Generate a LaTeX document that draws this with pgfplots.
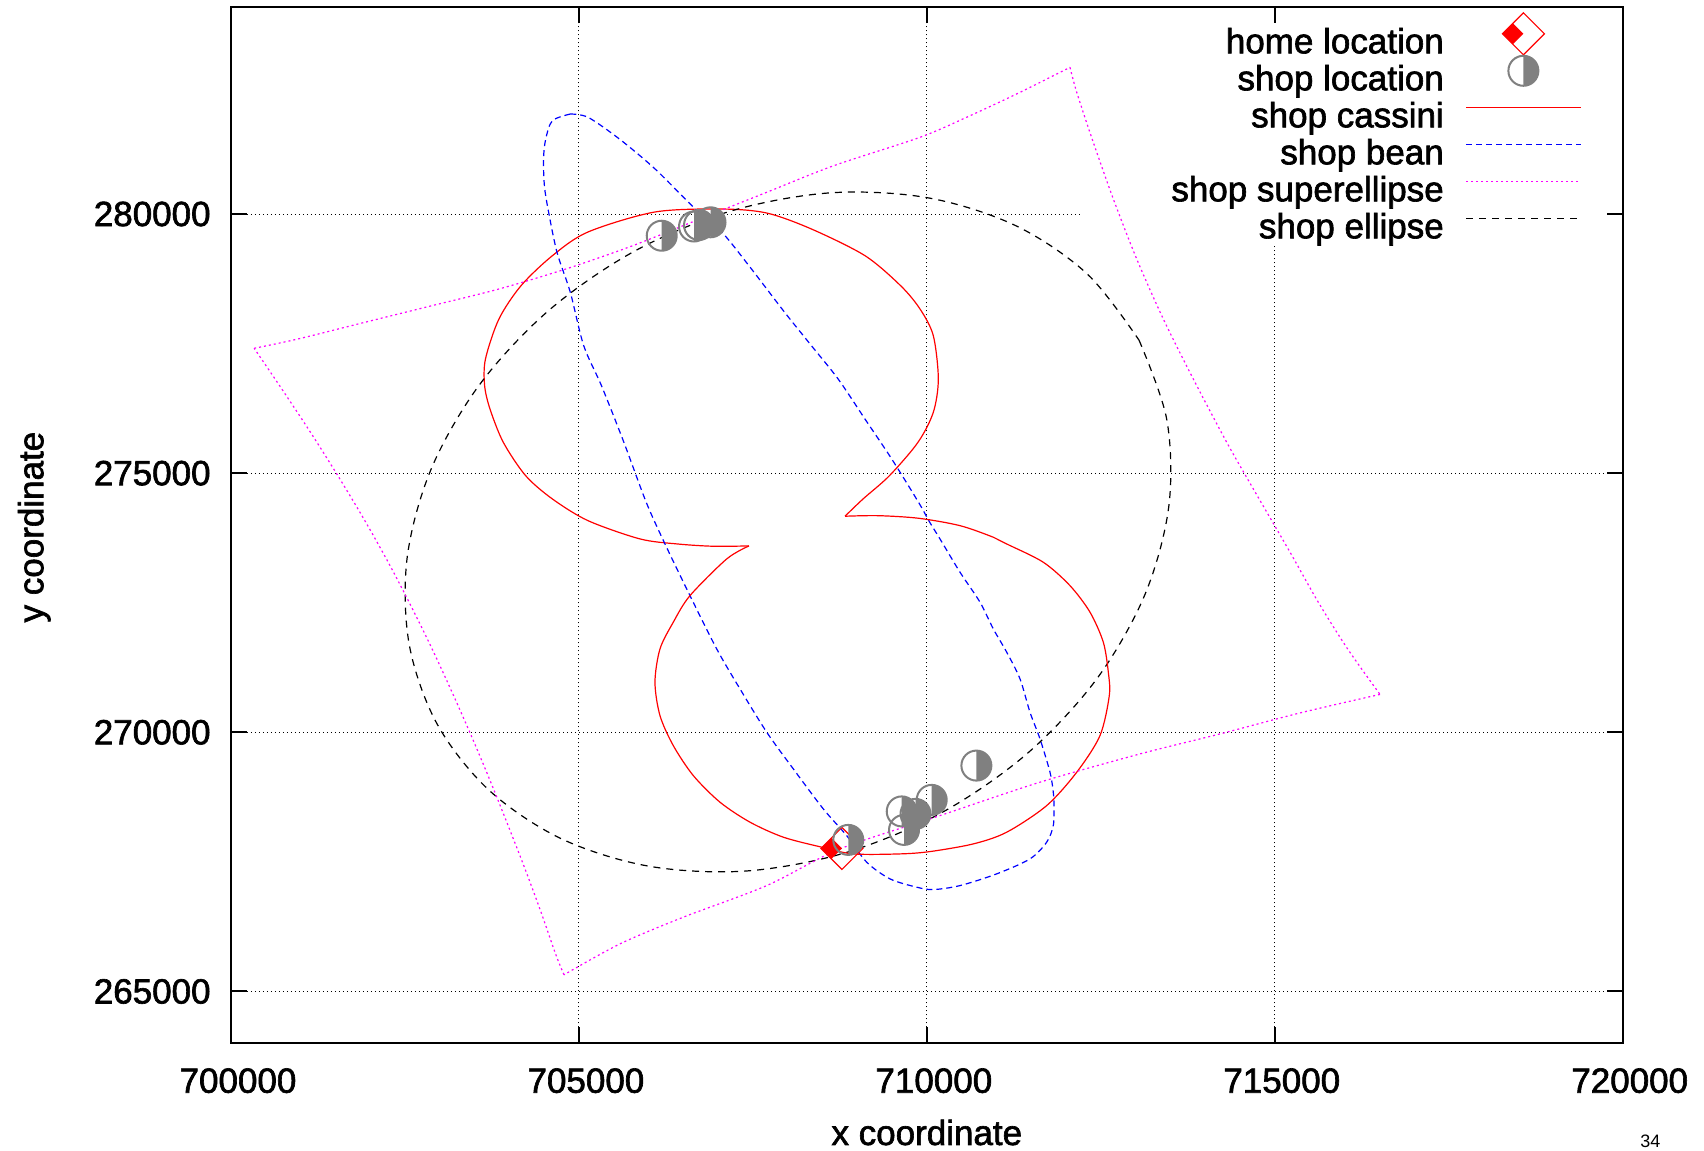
\documentclass[border=0pt]{standalone}
\usepackage{fontspec}
\setmainfont{Liberation Sans}[UprightFeatures={FakeBold=1.8}]
\newfontfamily\plainfont{Liberation Sans}
\usepackage{pgfplots}
\pgfplotsset{compat=1.18}
\definecolor{shopgray}{RGB}{128,128,128}
\definecolor{gmagenta}{RGB}{255,0,255}
\definecolor{gblue}{RGB}{0,0,255}
\definecolor{gred}{RGB}{255,0,0}

\pgfdeclareplotmark{shopmark}{%
  \pgfpathmoveto{\pgfqpoint{0pt}{\pgfplotmarksize}}%
  \pgfpatharc{90}{-90}{\pgfplotmarksize}%
  \pgfpathclose
  \pgfusepathqfill
  \pgfpathcircle{\pgfpointorigin}{\pgfplotmarksize}%
  \pgfusepathqstroke
}
\pgfdeclareplotmark{homemark}{%
  \pgfpathmoveto{\pgfqpoint{-10.5pt}{0pt}}%
  \pgfpathlineto{\pgfqpoint{0pt}{10.5pt}}%
  \pgfpathlineto{\pgfqpoint{10.5pt}{0pt}}%
  \pgfpathlineto{\pgfqpoint{0pt}{-10.5pt}}%
  \pgfpathclose
  \pgfusepathqstroke
  \pgfpathmoveto{\pgfqpoint{-10.5pt}{0pt}}%
  \pgfpathlineto{\pgfqpoint{-5.25pt}{5.25pt}}%
  \pgfpathlineto{\pgfqpoint{0pt}{0pt}}%
  \pgfpathlineto{\pgfqpoint{-5.25pt}{-5.25pt}}%
  \pgfpathclose
  \pgfusepathqfill
}

\pgfplotsset{
  linelegend/.style={legend image code/.code={%
    \draw[##1] (0pt,6.5pt) -- (57.5pt,6.5pt);}},
  marklegend/.style={legend image code/.code={%
    \path[draw=none] (0pt,6.5pt) -- (57.5pt,6.5pt);
    \path[##1, draw=none, overlay] plot coordinates {(28.5pt,6.5pt)};}},
  cassini/.style={gred, line width=0.6pt, smooth, tension=0.5},
  bean/.style={gblue, line width=0.6pt, dash pattern=on 3pt off 2pt, smooth, tension=0.5},
  supell/.style={gmagenta, line width=0.6pt, dash pattern=on 1pt off 1.5pt, smooth, tension=0.5},
  ell/.style={black, line width=0.6pt, dash pattern=on 3.5pt off 3pt, smooth, tension=0.55},
}

\begin{document}
\begin{tikzpicture}
\begin{axis}[
  at={(0pt,0pt)}, anchor=south west,
  scale only axis, width=695.85pt, height=518.3pt,
  xmin=700000, xmax=720000, ymin=264000, ymax=284000,
  xtick={700000,705000,710000,715000,720000},
  xticklabels={700000,705000,710000,715000,720000},
  ytick={265000,270000,275000,280000},
  yticklabels={265000,270000,275000,280000},
  scaled ticks=false,
  font=\fontsize{17.5}{21}\selectfont,
  tick label style={font=\fontsize{17.5}{21}\selectfont},
  xticklabel style={anchor=north, inner sep=0pt, yshift=-12.3pt, xshift=3.5pt},
  yticklabel style={anchor=east, inner sep=0pt, xshift=-10pt},
  major tick length=8pt,
  every tick/.style={black, line width=1pt},
  axis line style={line width=1pt},
  grid=major,
  major grid style={black, line width=0.5pt, dash pattern=on 0.5pt off 1.5pt},
  xlabel={x coordinate}, ylabel={y coordinate},
  xlabel style={at={(axis description cs:0.5,-0.0981)}, anchor=base, inner sep=0pt},
  ylabel style={at={(axis description cs:-0.1349,0.498)}, anchor=base, inner sep=0pt},
  legend cell align=right,
  legend plot pos=right,
  legend style={draw=none, fill=none, inner sep=0pt, outer sep=0pt, row sep=0pt, column sep=11pt,
     at={(1,1)}, anchor=north east, xshift=-20.35pt, yshift=-10.8pt,
     nodes={inner sep=0pt, text height=12.5pt, text depth=6pt},
     font=\fontsize{17.5}{21}\selectfont},
]
\fill[white] (axis cs:712244,279388) rectangle (axis cs:719760,283680);

\addplot[only marks, mark=homemark, color=gred, line width=0.6pt, marklegend]
  coordinates {(708780,267760)};
\addlegendentry{home location}

\addplot[only marks, mark=shopmark, mark size=7.5pt, color=shopgray, line width=1pt, marklegend]
  coordinates {(706190,279581) (706654,279759) (706726,279788) (706891,279840)
   (708871,267924) (709639,268474) (709672,268117) (709837,268426) (710070,268696) (710712,269358)};
\addlegendentry{shop location}

% shop cassini: upper lobe (notch L to notch R)
\addplot[cassini, linelegend] coordinates {
(707444,273596) (706927,273590) (706415,273634) (705878,273731) (705130,274084) (704619,274502)
(704234,274952) (703913,275596) (703722,276238) (703645,276688) (703657,277203) (703851,277975)
(704168,278617) (704619,279196) (705130,279653) (706093,280039) (707056,280096) (707699,280019)
(708341,279711) (709111,279196) (709623,278617) (709902,278167) (710093,277652) (710165,276817)
(710093,276175) (709873,275596) (709463,274952) (709083,274502) (708824,274169)};
\addlegendentry{shop cassini}

\addplot[bean, linelegend] coordinates {
(704876,281929) (705132,281865) (705582,281447) (706095,280868) (706673,280096) (707056,279647)
(707443,279003) (707956,278104) (708341,277460) (708725,276817) (709110,276046) (709495,275274)
(709880,274439) (710041,274053) (710189,273731) (710477,273088) (710764,272510) (710955,271995)
(711148,271545) (711339,271030) (711482,270388) (711626,269873) (711770,269230) (711817,268845)
(711827,268586) (711817,268200) (711722,267880) (711482,267558) (711004,267269) (710477,267043)
(710093,266966) (709854,267012) (709471,267172) (709136,267494) (708848,268007) (708512,268522)
(708081,269294) (707699,270002) (707315,270837) (706980,271609) (706596,272637) (706237,273634)
(705967,274439) (705646,275596) (705324,276688) (705069,277460) (704876,278490) (704685,279261)
(704556,280096) (704504,280546) (704491,281061) (704523,281447) (704619,281800) (704876,281929)};
\addlegendentry{shop bean}

% shop superellipse: top side
\addplot[supell, linelegend] coordinates {
(700333,277409) (700963,277589) (701924,277911) (702887,278231) (703850,278553) (704811,278939)
(705774,279389) (706736,279904) (707699,280419) (708661,280932) (709902,281480) (710620,281896)
(711339,282348) (712057,282830)};
\addlegendentry{shop superellipse}

\addplot[ell, linelegend] coordinates {
(713050,277564) (713448,276036) (713477,274358) (713132,272651) (712437,271022) (711441,269589)
(710209,268447) (708828,267676) (707390,267323) (705996,267419) (704737,267953) (703702,268891)
(702959,270168) (702561,271696) (702532,273374) (702877,275081) (703573,276709) (704569,278142)
(705800,279284) (707181,280056) (708620,280409) (710014,280313) (711273,279778) (712307,278841)
(713050,277564)};
\addlegendentry{shop ellipse}

% shop cassini: lower lobe (notch R to notch L)
\addplot[cassini, forget plot] coordinates {
(708824,274169) (709298,274180) (709880,274130) (710477,273987) (710955,273764) (711148,273634)
(711674,273281) (712057,272830) (712345,272317) (712536,271738) (712608,271159) (712622,270708)
(712488,269936) (712154,269230) (711722,268586) (711148,268073) (710668,267847) (710045,267699)
(709614,267654) (708943,267654) (708489,267784) (707937,267977) (707459,268266) (707027,268652)
(706644,269165) (706356,269744) (706165,270322) (706093,270966) (706165,271609) (706356,272124)
(706596,272637) (707124,273345) (707444,273596)};

% shop superellipse: right, bottom and left sides
\addplot[supell, forget plot] coordinates {
(712057,282830) (712154,282348) (712392,281383) (712680,280289) (713016,279132) (713398,277975)
(713829,276817) (714309,275596) (714692,274695) (715218,273478) (715624,272513) (716045,271613)
(716512,270731)};
\addplot[supell, forget plot] coordinates {
(716512,270731) (715363,270374) (714213,269969) (713063,269583) (711626,269038) (710189,268393)
(708752,267751) (707699,267043) (706500,266433) (705590,265918) (704786,265322)};
\addplot[supell, forget plot] coordinates {
(704786,265322) (704671,265700) (704453,266539) (704222,267377) (703978,268216) (703728,269054)
(703466,269893) (703191,270731) (702904,271570) (702598,272408) (702273,273247) (701923,274085)
(701548,274924) (701155,275762) (700742,276601) (700333,277409)};
\end{axis}
\node[anchor=base west, inner sep=0pt, font=\plainfont\fontsize{9}{11}\selectfont] at (704.5pt,-52.35pt) {34};
\path (-115.5pt,-53.85pt) (736.5pt,521.65pt);
\end{tikzpicture}
\end{document}
